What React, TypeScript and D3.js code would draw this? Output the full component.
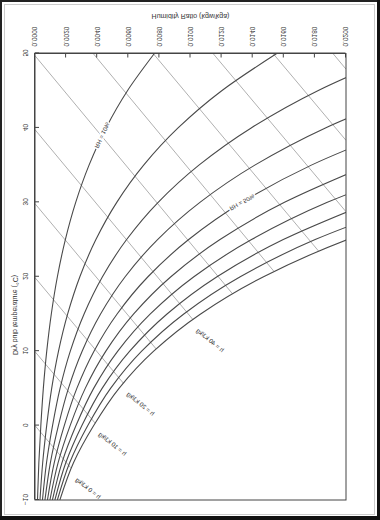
import React, { useEffect, useRef } from "react";
import * as d3 from "d3";

// Dry-bulb temperatures (°C) at which the RH curves are sampled
const temps = [-10, -5, 0, 5, 10, 15, 20, 25, 30, 35, 40, 45, 50];
const rhLevels = [10, 20, 30, 40, 50, 60, 70, 80, 90, 100];
// Humidity ratio (kg/kg) of each relative-humidity curve at the temps above
const rh10 = [0.00016, 0.000247, 0.000375, 0.000536, 0.000755, 0.001049, 0.001439, 0.001952, 0.002618, 0.003475, 0.004566, 0.005946, 0.007676];
const rh20 = [0.00032, 0.000494, 0.000751, 0.001073, 0.001512, 0.002101, 0.002885, 0.003916, 0.005258, 0.006988, 0.0092, 0.012007, 0.015543];
const rh30 = [0.00048, 0.000741, 0.001128, 0.001611, 0.00227, 0.003157, 0.004338, 0.005893, 0.00792, 0.010542, 0.013903, 0.018186, 0.023609];
const rh40 = [0.00064, 0.000988, 0.001504, 0.00215, 0.003031, 0.004217, 0.005798, 0.007882, 0.010606, 0.014135, 0.018677, 0.024486];
const rh50 = [0.0008, 0.001236, 0.001882, 0.00269, 0.003793, 0.00528, 0.007264, 0.009884, 0.013314, 0.01777, 0.023523];
const rh60 = [0.00096, 0.001483, 0.002259, 0.003231, 0.004557, 0.006347, 0.008737, 0.011898, 0.016045, 0.021446];
const rh70 = [0.00112, 0.001731, 0.002637, 0.003772, 0.005323, 0.007417, 0.010217, 0.013926, 0.0188, 0.025165];
const rh80 = [0.00128, 0.00198, 0.003016, 0.004315, 0.006091, 0.008491, 0.011704, 0.015966, 0.021579];
const rh90 = [0.00144, 0.002228, 0.003395, 0.004859, 0.00686, 0.009569, 0.013198, 0.018019, 0.024382];
const rh100 = [0.0016, 0.002476, 0.003775, 0.005403, 0.007632, 0.01065, 0.014699, 0.020086, 0.027209];
const rhSeries = [rh10, rh20, rh30, rh40, rh50, rh60, rh70, rh80, rh90, rh100];

// Curve labels
const rhLabelLevels = [10, 50];
const rhLabelTemps = [39, 30];

// Constant-enthalpy lines (kJ/kg): start and end points (temp °C, humidity ratio)
const enthalpyLevels = [0, 10, 20, 30, 40, 50, 60, 70, 80, 90, 100];
const enthStartT = [0, 9.94, 19.88, 29.82, 39.76, 49.7, 50, 50, 50, 50, 50];
const enthStartW = [0, 0, 0, 0, 0, 0, 0.00374, 0.0076, 0.01145, 0.01531, 0.01916];
const enthEndT = [-5.65, 0.32, 5.71, 10.3, 14.26, 17.71, 20.74, 23.44, 28.74, 38.33, 47.9];
const enthEndW = [0.00229, 0.00387, 0.00568, 0.00779, 0.01015, 0.0127, 0.01536, 0.01824, 0.02, 0.02, 0.02];
const enthLabelLevels = [0, 10, 20, 40];

// Axis ticks
const tempTicks = [-10, 0, 10, 20, 30, 40, 50];
const tempMinorTicks = d3.range(-10, 50.01, 2);
const wTicks = [0, 0.002, 0.004, 0.006, 0.008, 0.01, 0.012, 0.014, 0.016, 0.018, 0.02];
const wMinorTicks = d3.range(0, 0.02001, 0.0004);

const FONT = "'Liberation Sans', Arial, sans-serif";

export default function App() {
  const gRef = useRef<SVGGElement>(null);

  useEffect(() => {
    const g = d3.select(gRef.current);
    g.selectAll("*").remove();

    // orig (landscape) frame; the group transform mirrors it onto the page
    const x = d3.scaleLinear().domain([-10, 50]).range([20, 466.5]);
    const y = d3.scaleLinear().domain([0, 0.02]).range([345, 34]);

    const defs = g.append("defs");
    defs.append("clipPath").attr("id", "plotclip")
      .append("rect").attr("x", 20).attr("y", 34).attr("width", 446.5).attr("height", 311);

    const plot = g.append("g").attr("clip-path", "url(#plotclip)");

    // enthalpy lines
    enthalpyLevels.forEach((h, i) => {
      plot.append("line")
        .attr("x1", x(enthStartT[i])).attr("y1", y(enthStartW[i]))
        .attr("x2", x(enthEndT[i])).attr("y2", y(enthEndW[i]))
        .attr("stroke", "#b0b0b0").attr("stroke-width", 1);
    });

    // RH curves
    const line = d3.line<[number, number]>()
      .x(d => x(d[0])).y(d => y(d[1])).curve(d3.curveMonotoneX);
    rhSeries.forEach((s) => {
      const pts: [number, number][] = s.map((w, j) => [temps[j], w]);
      plot.append("path").attr("d", line(pts)).attr("fill", "none")
        .attr("stroke", "#4a4a4a").attr("stroke-width", 1.1);
    });

    // RH labels
    rhLabelLevels.forEach((lv, k) => {
      const s = rhSeries[rhLevels.indexOf(lv)];
      const t = rhLabelTemps[k];
      const j = Math.min(Math.floor((t + 10) / 5), temps.length - 2);
      const f = (t - temps[j]) / 5;
      const w = Math.exp(Math.log(s[j]) * (1 - f) + Math.log(s[j + 1]) * f);
      const ang = Math.atan2(y(s[j + 1]) - y(s[j]), x(temps[j + 1]) - x(temps[j])) * 180 / Math.PI;
      plot.append("text")
        .attr("transform", `translate(${x(t)},${y(w)}) rotate(${ang})`)
        .attr("text-anchor", "middle").attr("dy", "0.35em")
        .attr("font-family", FONT).attr("font-size", 6).attr("fill", "#333")
        .attr("stroke", "#fff").attr("stroke-width", 3).attr("paint-order", "stroke")
        .text(`RH = ${lv}%`);
    });

    // enthalpy labels
    enthLabelLevels.forEach((h) => {
      const i = enthalpyLevels.indexOf(h);
      const x1 = x(enthStartT[i]), y1 = y(enthStartW[i]);
      const x2 = x(enthEndT[i]), y2 = y(enthEndW[i]);
      const len = Math.hypot(x2 - x1, y2 - y1);
      const ux = (x2 - x1) / len, uy = (y2 - y1) / len;
      const px = x2 + ux * 27, py = y2 + uy * 27;
      const ang = Math.atan2(uy, ux) * 180 / Math.PI + 180 + 11;
      g.append("text")
        .attr("transform", `translate(${px},${py}) rotate(${ang})`)
        .attr("text-anchor", "middle").attr("dy", "0.35em")
        .attr("font-family", FONT).attr("font-size", 6.2).attr("fill", "#333")
        .text(`h = ${h} kJ/kg`);
    });

    // plot frame
    g.append("rect").attr("x", 20).attr("y", 34).attr("width", 446.5).attr("height", 311)
      .attr("fill", "none").attr("stroke", "#444").attr("stroke-width", 1);

    // temperature axis (bottom in orig)
    const ax = g.append("g").attr("transform", "translate(0,345)");
    ax.call(d3.axisBottom(x).tickValues(tempMinorTicks).tickSize(-2).tickFormat(() => ""));
    ax.call(d3.axisBottom(x).tickValues(tempTicks).tickSizeInner(-4).tickSizeOuter(0).tickPadding(7).tickFormat(d3.format("d")));
    // humidity axis (right in orig)
    const ay = g.append("g").attr("transform", "translate(466.5,0)");
    ay.call(d3.axisRight(y).tickValues(wMinorTicks).tickSize(-2).tickFormat(() => ""));
    ay.call(d3.axisRight(y).tickValues(wTicks).tickSizeInner(-4).tickSizeOuter(0).tickPadding(7).tickFormat(d3.format(".4f")));

    g.selectAll(".domain").attr("stroke", "#444");
    g.selectAll(".tick line").attr("stroke", "#444");
    g.selectAll(".tick text").attr("font-family", FONT).attr("font-size", 6.5).attr("fill", "#333");

    // axis titles
    g.append("text").attr("x", 205).attr("y", 367)
      .attr("text-anchor", "middle").attr("font-family", FONT).attr("font-size", 7).attr("fill", "#333")
      .text("Dry bulb temperature (°C)");
    g.append("text").attr("transform", "translate(506,189.5) rotate(-90)")
      .attr("text-anchor", "middle").attr("font-family", FONT).attr("font-size", 7).attr("fill", "#333")
      .text("Humidity Ratio (kgw/kga)");
  }, []);

  return (
    <svg width={380} height={520} style={{ position: "absolute", left: 0, top: 0, background: "#fff" }}>
      <rect x={0} y={0} width={380} height={520} fill="#fff" />
      <rect x={4.5} y={4.5} width={370} height={510} fill="none" stroke="#ccc" strokeWidth={1} />
      <rect x={1} y={1} width={378} height={518} fill="none" stroke="#222" strokeWidth={2} />
      <rect x={0} y={516} width={380} height={4} fill="#111" />
      <rect x={377} y={0} width={3} height={520} fill="#111" />
      <g ref={gRef} transform="matrix(0,-1,-1,0,380,520)" />
    </svg>
  );
}
